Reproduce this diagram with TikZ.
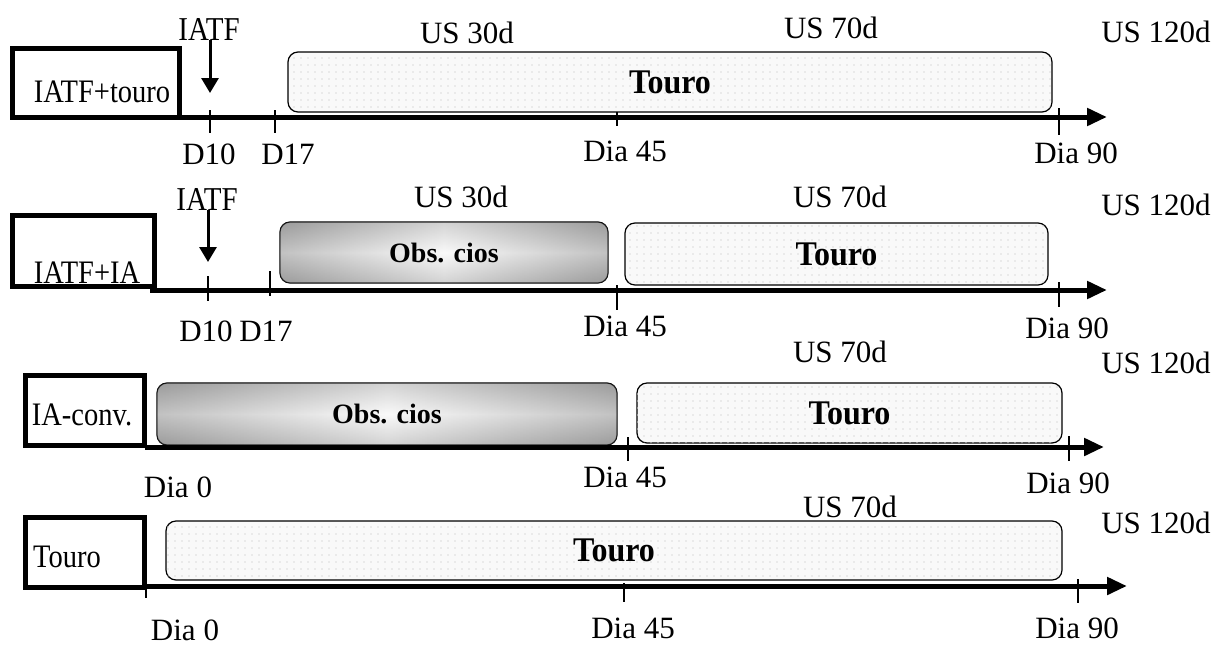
\documentclass[tikz,border=0pt]{standalone}
\usepackage{fontspec}
\usepackage{graphicx}
\setmainfont{Liberation Serif}
\usetikzlibrary{arrows.meta,patterns.meta}
\newcommand{\vstretch}[2][1.15]{\scalebox{1}[#1]{#2}}
\definecolor{obsdark}{gray}{0.45}
\definecolor{obsmid}{gray}{0.62}
\definecolor{obslight}{gray}{0.97}
\pgfdeclarehorizontalshading{obsshade}{100bp}{color(0bp)=(obsdark); color(22bp)=(obsmid); color(50bp)=(obslight); color(78bp)=(obsmid); color(100bp)=(obsdark)}
\tikzset{
  touro/.style={draw, line width=1.2pt, rounded corners=10pt, fill=gray!5,
    postaction={pattern={Dots[distance=7pt,radius=0.8pt]}, pattern color=gray!28},
    font=\bfseries\fontsize{32}{36}\selectfont, inner sep=0pt},
  obs/.style={draw, line width=1.2pt, rounded corners=10pt, shading=obsshade,
    postaction={shade, top color=gray, bottom color=gray, middle color=white, opacity=0.3},
    font=\bfseries\fontsize{28}{32}\selectfont, inner sep=0pt},
  labbox/.style={draw, line width=5pt, inner sep=0pt},
  txt/.style={anchor=base, inner sep=0pt, font=\fontsize{31}{36}\selectfont},
  labtxt/.style={anchor=base, inner sep=0pt, font=\fontsize{28.5}{32}\selectfont},
  axisline/.style={line width=5pt, -{Triangle[length=20pt,width=17pt]}},
  tickline/.style={line width=1.2pt},
  iatfarrow/.style={line width=3pt, -{Triangle[length=15pt,width=17pt]}}
}
\begin{document}
\begin{tikzpicture}[x=1pt,y=-1pt]
\useasboundingbox (0,0) rectangle (1215,646);

% ---------------- Row 1 ----------------
\node[touro, minimum width=764pt, minimum height=60pt] (t1) at (670,82) {\vstretch[1.08]{Touro}};
\node[labbox, minimum width=167pt, minimum height=69pt] (b1) at (96,83) {};
\node[labtxt] (l1) at (102,102) {\vstretch{IATF+touro}};
\coordinate (a1s) at (150,117);
\coordinate (a1e) at (1107,117);
\draw[axisline] (a1s) -- (a1e);
\coordinate (k1a) at (210,110); \coordinate (k1b) at (210,133);
\coordinate (k1c) at (275,110); \coordinate (k1d) at (275,133);
\coordinate (k1e) at (617,112); \coordinate (k1f) at (617,126);
\coordinate (k1g) at (1059,108); \coordinate (k1h) at (1059,135);
\draw[tickline] (k1a) -- (k1b) (k1c) -- (k1d) (k1e) -- (k1f) (k1g) -- (k1h);
\node[txt, font=\fontsize{29}{34}\selectfont] (i1) at (209,40) {\vstretch{IATF}};
\coordinate (i1tip) at (210,93);
\draw[iatfarrow] (i1.south -| i1tip) -- (i1tip);
\node[txt] (u30a) at (467,43) {US 30d};
\node[txt] (u70a) at (831,38) {US 70d};
\node[txt] (u120a) at (1156,42) {US 120d};
\node[txt] (d10a) at (209,164) {D10};
\node[txt] (d17a) at (288,164) {D17};
\node[txt] (d45a) at (625,161) {Dia 45};
\node[txt] (d90a) at (1076,163) {Dia 90};

% ---------------- Row 2 ----------------
\node[obs, minimum width=328pt, minimum height=61pt] (o2) at (444,252.5) {Obs. cios};
\node[touro, minimum width=423pt, minimum height=62pt] (t2) at (836.5,254) {\vstretch[1.08]{Touro}};
\node[labbox, minimum width=142pt, minimum height=71pt] (b2) at (83.5,251) {};
\node[labtxt] (l2) at (87,283) {\vstretch{IATF+IA}};
\coordinate (a2s) at (150,290);
\coordinate (a2e) at (1107,290);
\draw[axisline] (a2s) -- (a2e);
\coordinate (k2a) at (208,276); \coordinate (k2b) at (208,301);
\coordinate (k2c) at (270,271); \coordinate (k2d) at (270,296);
\coordinate (k2e) at (617,285); \coordinate (k2f) at (617,310);
\coordinate (k2g) at (1059,282); \coordinate (k2h) at (1059,307);
\draw[tickline] (k2a) -- (k2b) (k2c) -- (k2d) (k2e) -- (k2f) (k2g) -- (k2h);
\node[txt, font=\fontsize{29}{34}\selectfont] (i2) at (207,210) {\vstretch{IATF}};
\coordinate (i2tip) at (208,262);
\draw[iatfarrow] (i2.south -| i2tip) -- (i2tip);
\node[txt] (u30b) at (461,207) {US 30d};
\node[txt] (u70b) at (840,207) {US 70d};
\node[txt] (u120b) at (1156,215) {US 120d};
\node[txt] (d10b) at (206,341) {D10};
\node[txt] (d17b) at (266,341) {D17};
\node[txt] (d45b) at (625,336) {Dia 45};
\node[txt] (d90b) at (1067,338) {Dia 90};

% ---------------- Row 3 ----------------
\node[obs, minimum width=460pt, minimum height=62pt] (o3) at (387,414) {Obs. cios};
\node[touro, minimum width=425pt, minimum height=60pt] (t3) at (849.5,413) {\vstretch[1.08]{Touro}};
\node[labbox, minimum width=119pt, minimum height=70pt] (b3) at (85,410.5) {};
\node[labtxt] (l3) at (82,425) {\vstretch{IA-conv.}};
\coordinate (a3s) at (145,447);
\coordinate (a3e) at (1104,447);
\draw[axisline] (a3s) -- (a3e);
\coordinate (k3e) at (628,437); \coordinate (k3f) at (628,461);
\coordinate (k3g) at (1069,436); \coordinate (k3h) at (1069,461);
\draw[tickline] (k3e) -- (k3f) (k3g) -- (k3h);
\node[txt] (u70c) at (840,362) {US 70d};
\node[txt] (u120c) at (1156,373) {US 120d};
\node[txt] (d0c) at (178,497) {Dia 0};
\node[txt] (d45c) at (625,487) {Dia 45};
\node[txt] (d90c) at (1068,493) {Dia 90};

% ---------------- Row 4 ----------------
\node[touro, minimum width=896pt, minimum height=59pt] (t4) at (614,550.5) {\vstretch[1.08]{Touro}};
\node[labbox, minimum width=119pt, minimum height=70pt] (b4) at (85,552.5) {};
\node[labtxt] (l4) at (67,567) {\vstretch{Touro}};
\coordinate (a4s) at (145,586);
\coordinate (a4e) at (1127,586);
\draw[axisline] (a4s) -- (a4e);
\coordinate (k4a) at (146,586); \coordinate (k4b) at (146,598);
\coordinate (k4e) at (624,583); \coordinate (k4f) at (624,602);
\coordinate (k4g) at (1078,579); \coordinate (k4h) at (1078,603);
\draw[tickline] (k4a) -- (k4b) (k4e) -- (k4f) (k4g) -- (k4h);
\node[txt] (u70d) at (850,517) {US 70d};
\node[txt] (u120d) at (1156,533) {US 120d};
\node[txt] (d0d) at (185,640) {Dia 0};
\node[txt] (d45d) at (633,638) {Dia 45};
\node[txt] (d90d) at (1077,638) {Dia 90};
\end{tikzpicture}
\end{document}
